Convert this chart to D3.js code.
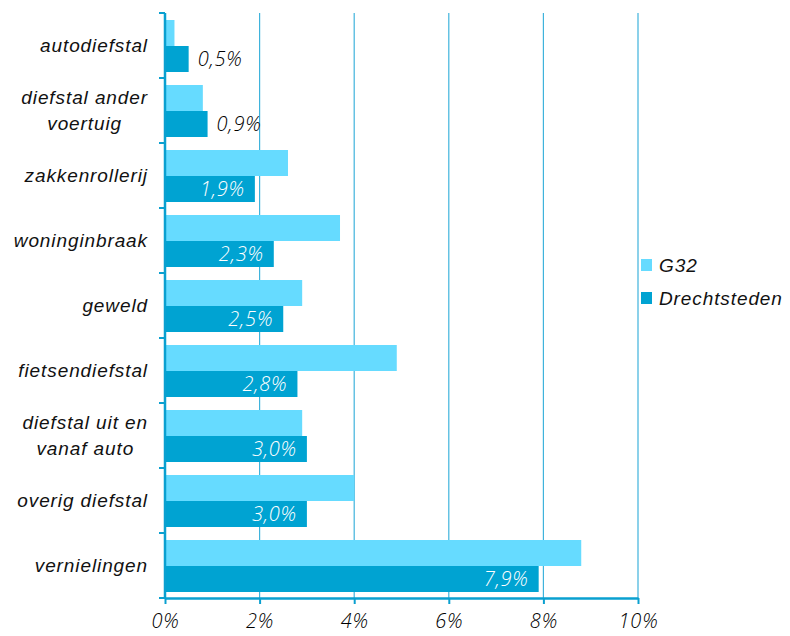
<!DOCTYPE html>
<html>
<head>
<meta charset="utf-8">
<script src="https://cdn.jsdelivr.net/npm/d3@7"></script>
<style>
  body { margin: 0; background: #fff; }
  svg { display: block; }
</style>
</head>
<body>
<div id="chart"></div>
<script>
const categories = [
  ["autodiefstal"],
  ["diefstal ander", "voertuig"],
  ["zakkenrollerij"],
  ["woninginbraak"],
  ["geweld"],
  ["fietsendiefstal"],
  ["diefstal uit en", "vanaf auto"],
  ["overig diefstal"],
  ["vernielingen"]
];
const g32 = [0.2, 0.8, 2.6, 3.7, 2.9, 4.9, 2.9, 4.0, 8.8];
const drechtsteden = [0.5, 0.9, 1.9, 2.3, 2.5, 2.8, 3.0, 3.0, 7.9];
const ticks = [0, 2, 4, 6, 8, 10];
const seriesNames = ["G32", "Drechtsteden"];

(function () {
  const width = 790, height = 636;
  const margin = { top: 13, left: 165, right: 152, bottom: 38 };
  const colors = { g32: "#66dbff", dr: "#00a3d2", axis: "#0aa0d0" };
  const labelFont = "'Liberation Sans', Arial, sans-serif";
  const numFont = "'Open Sans', 'Noto Sans', sans-serif";

  const svg = d3.select("#chart").append("svg")
    .attr("width", width).attr("height", height);

  const x = d3.scaleLinear().domain([0, 10])
    .range([margin.left, margin.left + 473]);
  const keys = categories.map((c, i) => i);
  const y = d3.scaleBand().domain(keys)
    .range([margin.top, height - margin.bottom]);
  const inner = d3.scaleBand().domain(["g32", "dr"])
    .range([7, y.bandwidth() - 6]);

  // gridlines
  svg.append("g").selectAll("line")
    .data(ticks.filter(t => t > 0))
    .join("line")
    .attr("x1", d => x(d)).attr("x2", d => x(d))
    .attr("y1", margin.top).attr("y2", height - margin.bottom)
    .attr("stroke", "#3fb3dc").attr("stroke-width", 1.2);

  const rows = svg.append("g").selectAll("g")
    .data(keys)
    .join("g")
    .attr("transform", i => `translate(0,${y(i)})`);

  rows.append("rect")
    .attr("x", x(0))
    .attr("y", inner("g32"))
    .attr("width", i => x(g32[i]) - x(0))
    .attr("height", inner.bandwidth())
    .attr("fill", colors.g32);

  rows.append("rect")
    .attr("x", x(0))
    .attr("y", inner("dr"))
    .attr("width", i => x(drechtsteden[i]) - x(0))
    .attr("height", inner.bandwidth())
    .attr("fill", colors.dr);

  // value labels
  rows.append("text")
    .attr("y", inner("dr") + inner.bandwidth() / 2)
    .attr("dy", "0.36em")
    .attr("x", i => drechtsteden[i] < 1 ? x(drechtsteden[i]) + 9 : x(drechtsteden[i]) - 10)
    .attr("text-anchor", i => drechtsteden[i] < 1 ? "start" : "end")
    .attr("fill", i => drechtsteden[i] < 1 ? "#000" : "#fff")
    .attr("font-family", numFont)
    .attr("font-style", "italic")
    .attr("font-weight", 300)
    .attr("font-size", 20)
    .attr("letter-spacing", 0.8)
    .text(i => drechtsteden[i].toFixed(1).replace(".", ",") + "%");

  // category labels: block right-aligned, lines centred in block
  rows.each(function (i) {
    const lines = categories[i];
    const row = d3.select(this);
    const mid = y.bandwidth() / 2;
    const texts = lines.map((ln, k) => row.append("text")
      .attr("y", mid + (k - (lines.length - 1) / 2) * 26)
      .attr("dy", "0.35em")
      .attr("text-anchor", "middle")
      .attr("font-family", labelFont)
      .attr("font-style", "italic")
      .attr("font-size", 19)
      .attr("letter-spacing", 0.9)
      .attr("fill", "#111")
      .text(ln));
    const maxW = d3.max(texts, t => t.node().getComputedTextLength());
    texts.forEach(t => t.attr("x", 148 - maxW / 2));
  });

  // axes
  svg.append("g").selectAll("line")
    .data(d3.range(categories.length + 1))
    .join("line")
    .attr("x1", x(0) - 6).attr("x2", x(0))
    .attr("y1", i => margin.top + i * y.step())
    .attr("y2", i => margin.top + i * y.step())
    .attr("stroke", colors.axis).attr("stroke-width", 2);
  svg.append("line")
    .attr("x1", x(0)).attr("x2", x(0))
    .attr("y1", margin.top).attr("y2", height - margin.bottom)
    .attr("stroke", colors.axis).attr("stroke-width", 2.5);

  const xAxis = svg.append("g")
    .attr("transform", `translate(0,${height - margin.bottom})`)
    .call(d3.axisBottom(x).tickValues(ticks).tickSize(6).tickSizeOuter(0)
      .tickFormat(d => d + "%"));
  xAxis.select(".domain").attr("stroke", colors.axis).attr("stroke-width", 2.5);
  xAxis.selectAll(".tick line").attr("stroke", colors.axis).attr("stroke-width", 2);
  xAxis.selectAll(".tick text")
    .attr("y", 16)
    .attr("fill", "#000")
    .attr("font-family", numFont)
    .attr("font-style", "italic")
    .attr("font-weight", 300)
    .attr("font-size", 20)
    .attr("letter-spacing", 0.8);

  // legend
  const legend = svg.append("g").attr("transform", "translate(641,265)");
  const items = legend.selectAll("g")
    .data(seriesNames)
    .join("g")
    .attr("transform", (d, i) => `translate(0,${i * 33})`);
  items.append("rect")
    .attr("x", 0).attr("y", -6)
    .attr("width", 11).attr("height", 12)
    .attr("fill", (d, i) => i === 0 ? colors.g32 : colors.dr);
  items.append("text")
    .attr("x", 18).attr("dy", "0.36em")
    .attr("font-family", labelFont)
    .attr("font-style", "italic")
    .attr("font-size", 19)
    .attr("letter-spacing", 0.9)
    .attr("fill", "#111")
    .text(d => d);
})();
</script>
</body>
</html>
